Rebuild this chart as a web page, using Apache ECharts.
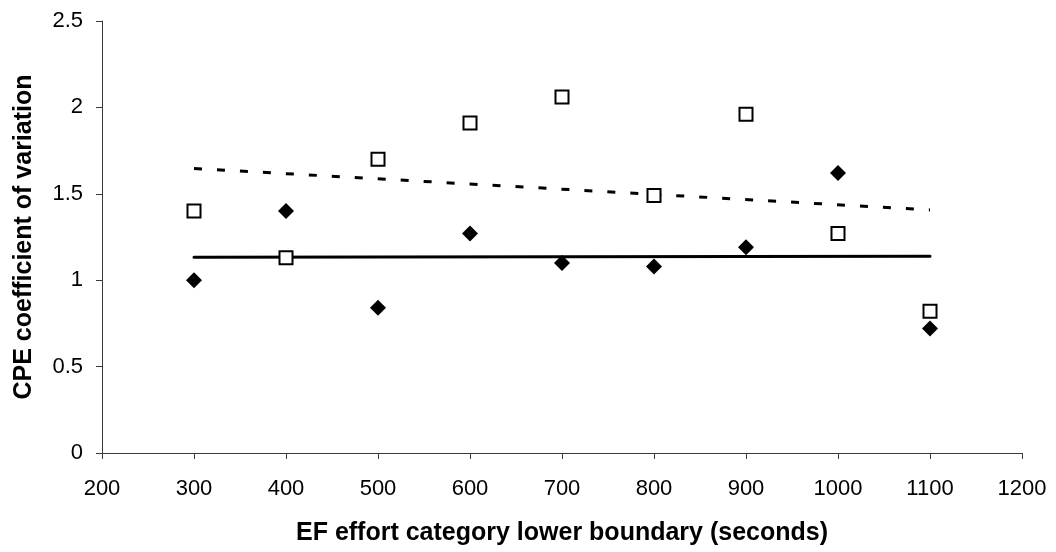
<!DOCTYPE html>
<html>
<head>
<meta charset="utf-8">
<title>CPE coefficient of variation by EF effort category</title>
<script src="https://cdn.jsdelivr.net/npm/echarts@6/dist/echarts.min.js"></script>
<style>
  html, body { margin: 0; padding: 0; background: #ffffff; }
  #chart { width: 1056px; height: 552px; }
</style>
</head>
<body>
<div id="chart"></div>
<script>
// Lower boundary of each EF effort category (seconds)
const boundaries = [300, 400, 500, 600, 700, 800, 900, 1000, 1100];
// Coefficient of variation, filled-diamond series
const cvDiamond = [1.00, 1.40, 0.84, 1.27, 1.10, 1.08, 1.19, 1.62, 0.72];
// Coefficient of variation, open-square series
const cvSquare = [1.40, 1.13, 1.70, 1.91, 2.06, 1.49, 1.96, 1.27, 0.82];

const xTicks = [200, 300, 400, 500, 600, 700, 800, 900, 1000, 1100, 1200];
const yTicks = [0, 0.5, 1, 1.5, 2, 2.5];

// Least-squares straight line through a series, evaluated at the first and last category
function linearTrend(xs, ys) {
  const n = xs.length;
  const mx = xs.reduce((a, b) => a + b, 0) / n;
  const my = ys.reduce((a, b) => a + b, 0) / n;
  let sxy = 0, sxx = 0;
  for (let i = 0; i < n; i++) {
    sxy += (xs[i] - mx) * (ys[i] - my);
    sxx += (xs[i] - mx) * (xs[i] - mx);
  }
  const slope = sxy / sxx;
  const x0 = xs[0], x1 = xs[n - 1];
  return [[x0, my + slope * (x0 - mx)], [x1, my + slope * (x1 - mx)]];
}

const pairs = (xs, ys) => xs.map((x, i) => [x, ys[i]]);

const font = "'Liberation Sans', Arial, sans-serif";
const axisColor = '#3a3a3a';

const chart = echarts.init(document.getElementById('chart'), null, { renderer: 'canvas' });

chart.setOption({
  animation: false,
  backgroundColor: '#ffffff',
  grid: { left: 102, right: 34, top: 21, bottom: 99, containLabel: false },
  xAxis: {
    type: 'value',
    min: xTicks[0],
    max: xTicks[xTicks.length - 1],
    interval: 100,
    name: 'EF effort category lower boundary (seconds)',
    nameLocation: 'middle',
    nameGap: 68,
    nameTextStyle: { fontFamily: font, fontSize: 25, fontWeight: 'bold', color: '#000' },
    axisLine: { show: true, lineStyle: { color: axisColor, width: 1 } },
    axisTick: { show: true, inside: false, length: 6, lineStyle: { color: axisColor } },
    axisLabel: { fontFamily: font, fontSize: 22, color: '#000', margin: 25, formatter: v => String(v) },
    splitLine: { show: false }
  },
  yAxis: {
    type: 'value',
    min: yTicks[0],
    max: yTicks[yTicks.length - 1],
    interval: 0.5,
    name: 'CPE coefficient of variation',
    nameLocation: 'middle',
    nameGap: 65,
    nameRotate: 90,
    nameTextStyle: { fontFamily: font, fontSize: 25, fontWeight: 'bold', color: '#000' },
    axisLine: { show: true, lineStyle: { color: axisColor, width: 1 } },
    axisTick: { show: true, inside: false, length: 6, lineStyle: { color: axisColor } },
    axisLabel: { fontFamily: font, fontSize: 22, color: '#000', margin: 19, formatter: v => String(v) },
    splitLine: { show: false }
  },
  series: [
    {
      name: 'Trend (diamonds)',
      type: 'line',
      data: linearTrend(boundaries, cvDiamond),
      showSymbol: false,
      lineStyle: { color: '#000', width: 3, type: 'solid', cap: 'round' },
      z: 2
    },
    {
      name: 'Trend (squares)',
      type: 'line',
      data: linearTrend(boundaries, cvSquare),
      showSymbol: false,
      lineStyle: { color: '#000', width: 3, type: [8, 15] },
      z: 2
    },
    {
      name: 'Squares',
      type: 'scatter',
      data: pairs(boundaries, cvSquare),
      symbol: 'rect',
      symbolSize: 13,
      itemStyle: { color: '#ffffff', borderColor: '#000', borderWidth: 2, opacity: 1 },
      z: 3
    },
    {
      name: 'Diamonds',
      type: 'scatter',
      data: pairs(boundaries, cvDiamond),
      symbol: 'diamond',
      symbolSize: [16, 16],
      itemStyle: { color: '#000', opacity: 1 },
      z: 4
    }
  ]
});
</script>
</body>
</html>
